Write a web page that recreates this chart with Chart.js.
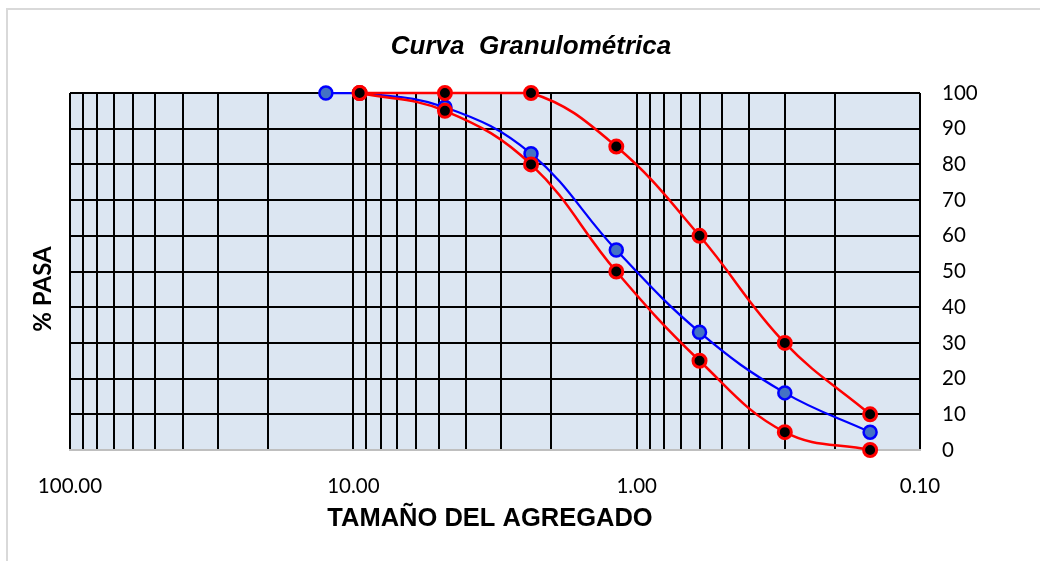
<!DOCTYPE html>
<html>
<head>
<meta charset="utf-8">
<script src="https://cdn.jsdelivr.net/npm/chart.js@4.4.1/dist/chart.umd.min.js"></script>
<style>
  html, body { margin: 0; padding: 0; background: #fff; }
  #wrap { width: 1040px; height: 561px; }
</style>
</head>
<body>
<div id="wrap"><canvas id="c" width="1040" height="561"></canvas></div>
<script>
// ---- data ----
const chartTitle = 'Curva  Granulométrica';
const xAxisTitle = 'TAMAÑO DEL AGREGADO';
const yAxisTitle = '% PASA';

const sieveSizes = [12.5, 9.5, 4.75, 2.36, 1.18, 0.6, 0.3, 0.15];
const muestraPasa = [100, 100, 96, 83, 56, 33, 16, 5];

const limiteSizes = [9.5, 4.75, 2.36, 1.18, 0.6, 0.3, 0.15];
const limiteSuperior = [100, 100, 100, 85, 60, 30, 10];
const limiteInferior = [100, 95, 80, 50, 25, 5, 0];

const xGridValues = [100, 90, 80, 70, 60, 50, 40, 30, 20,
                     10, 9, 8, 7, 6, 5, 4, 3, 2,
                     1, 0.9, 0.8, 0.7, 0.6, 0.5, 0.4, 0.3, 0.2, 0.1];
const xMajorValues = [100, 10, 1, 0.1];
const xTickLabels = ['100.00', '10.00', '1.00', '0.10'];
const yMin = 0, yMax = 100, yStep = 10;

const toPoints = (xs, ys) => xs.map((x, i) => ({ x: x, y: ys[i] }));

const bgPlugin = {
  id: 'bg',
  beforeDraw(chart) {
    const { ctx, chartArea: a } = chart;
    ctx.save();
    ctx.fillStyle = '#DCE6F2';
    ctx.fillRect(a.left, a.top, a.right - a.left, a.bottom - a.top);
    // outer frame
    ctx.strokeStyle = '#D9D9D9';
    ctx.lineWidth = 2;
    ctx.beginPath();
    ctx.moveTo(7, 561);
    ctx.lineTo(7, 9);
    ctx.lineTo(1040, 9);
    ctx.stroke();
    ctx.restore();
  },
  afterDraw(chart) {
    const { ctx } = chart;
    ctx.save();
    ctx.fillStyle = '#000';
    ctx.textAlign = 'center';
    ctx.textBaseline = 'middle';
    ctx.font = 'italic bold 26px "Liberation Sans", Arial, sans-serif';
    ctx.fillText(chartTitle, 531, 47);
    ctx.font = 'bold 25.5px "Liberation Sans", Arial, sans-serif';
    ctx.fillText(xAxisTitle, 490, 519);
    ctx.translate(43, 289);
    ctx.rotate(-Math.PI / 2);
    ctx.font = 'bold 24px Lato, "Open Sans", sans-serif';
    ctx.fillText(yAxisTitle, 0, 0);
    ctx.restore();
  }
};

const markerBlue = { pointRadius: 6.5, pointBorderWidth: 2.5, pointBackgroundColor: '#4472C4', pointBorderColor: '#0000FF' };
const markerRed = { pointRadius: 6.5, pointBorderWidth: 3, pointBackgroundColor: '#000000', pointBorderColor: '#FF0000' };

new Chart(document.getElementById('c'), {
  type: 'line',
  data: {
    datasets: [
      Object.assign({
        label: 'Muestra',
        data: toPoints(sieveSizes, muestraPasa),
        borderColor: '#0000FF', borderWidth: 2.25, tension: 0.4, clip: false, order: 3
      }, markerBlue),
      Object.assign({
        label: 'Límite superior',
        data: toPoints(limiteSizes, limiteSuperior),
        borderColor: '#FF0000', borderWidth: 2.5, tension: 0.4, clip: false, order: 2
      }, markerRed),
      Object.assign({
        label: 'Límite inferior',
        data: toPoints(limiteSizes, limiteInferior),
        borderColor: '#FF0000', borderWidth: 2.5, tension: 0.4, clip: false, order: 1
      }, markerRed)
    ]
  },
  options: {
    responsive: false,
    animation: false,
    layout: { padding: { left: 70, top: 93, right: 0, bottom: 0 } },
    plugins: { legend: { display: false }, tooltip: { enabled: false }, title: { display: false } },
    scales: {
      x: {
        type: 'logarithmic',
        position: 'bottom',
        reverse: true,
        min: 0.1, max: 100,
        afterBuildTicks(scale) { scale.ticks = xGridValues.map(v => ({ value: v })); },
        afterFit(scale) { scale.height = 111; },
        grid: { color: '#000', lineWidth: 2, drawTicks: false },
        border: { display: true, color: '#BFBFBF', width: 2 },
        ticks: {
          autoSkip: false, maxRotation: 0, minRotation: 0, padding: 24,
          color: '#000', font: { family: 'Lato', size: 20.5 },
          callback(value) {
            const i = xMajorValues.findIndex(m => Math.abs(m - value) < 1e-9);
            return i >= 0 ? xTickLabels[i] : '';
          }
        }
      },
      y: {
        position: 'right',
        min: yMin, max: yMax,
        afterFit(scale) { scale.width = 120; },
        grid: {
          drawTicks: false, lineWidth: 2,
          color: (c) => (c.tick && c.tick.value === 0) ? 'rgba(0,0,0,0)' : '#000'
        },
        border: { display: false },
        ticks: { stepSize: yStep, padding: 22, color: '#000', font: { family: 'Lato', size: 20.5 } }
      }
    }
  },
  plugins: [bgPlugin]
});
</script>
</body>
</html>
